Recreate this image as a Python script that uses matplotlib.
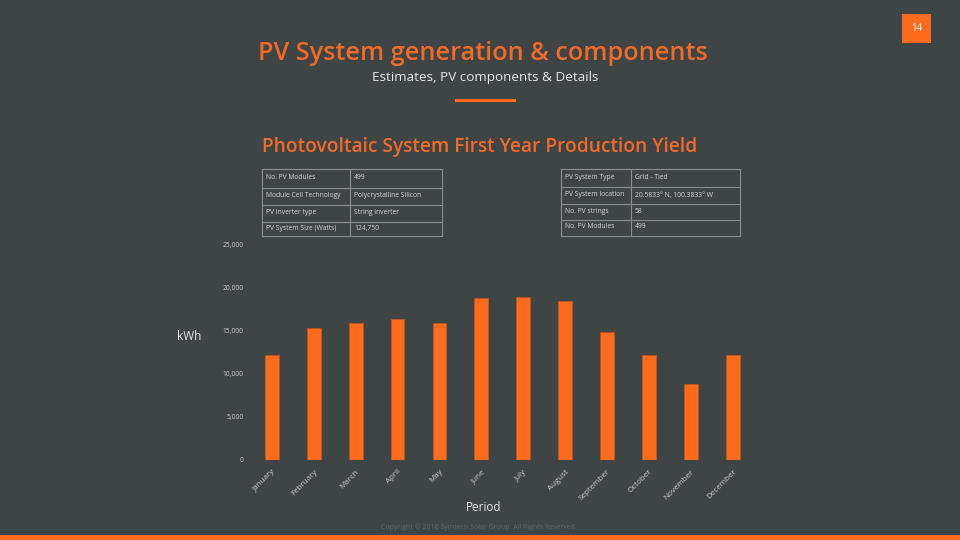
import matplotlib
matplotlib.use("Agg")
import matplotlib.pyplot as plt
from matplotlib.patches import Rectangle
from matplotlib.lines import Line2D

months = ["January", "February", "March", "April", "May", "June", "July",
          "August", "September", "October", "November", "December"]
production_kwh = [12100, 15300, 15900, 16300, 15900, 18750, 18900,
                  18400, 14800, 12200, 8800, 12200]
y_ticks = [0, 5000, 10000, 15000, 20000, 25000]
y_tick_labels = ["0", "5,000", "10,000", "15,000", "20,000", "25,000"]

left_table = [["No. PV Modules", "499"],
              ["Module Cell Technology", "Polycrystalline Silicon"],
              ["PV Inverter type", "String inverter"],
              ["PV System Size (Watts)", "124,750"]]
right_table = [["PV System Type", "Grid - Tied"],
               ["PV System location", "20.5833° N, 100.3833° W"],
               ["No. PV strings", "58"],
               ["No. PV Modules", "499"]]

BG = "#3f4444"
ORANGE = "#fc6b1e"
TITLE_OR = "#f06b2a"
LIGHT = "#e6e6e6"
GRID = "#8a8e8e"

plt.rcParams['font.family'] = ['Open Sans', 'DejaVu Sans']

W, H = 960, 540
fig = plt.figure(figsize=(9.6, 5.4), dpi=100, facecolor=BG)


def fx(x):
    return x / W


def fy(y):
    return 1 - y / H


# Titles
fig.text(fx(482.5), fy(53.5), "PV System generation & components", color=TITLE_OR,
         fontsize=18.2, fontweight="semibold", ha="center", va="center")
fig.text(fx(485), fy(77.5), "Estimates, PV components & Details", color=LIGHT,
         fontsize=9.7, ha="center", va="center")
fig.add_artist(Rectangle((fx(455), fy(101.5)), fx(61), 3 / H, transform=fig.transFigure,
                         color=ORANGE, lw=0))
fig.text(fx(480), fy(146.5), "Photovoltaic System First Year Production Yield", color=TITLE_OR,
         fontsize=13.8, fontweight="semibold", ha="center", va="center")

# Page number box
fig.add_artist(Rectangle((fx(902), fy(43)), fx(29), 29 / H, transform=fig.transFigure,
                         color=ORANGE, lw=0))
fig.text(fx(916.5), fy(28.5), "14", color="white", fontsize=7, ha="center", va="center")

# Bottom strip
fig.add_artist(Rectangle((0, 0), 1, 5 / H, transform=fig.transFigure, color=ORANGE, lw=0))
fig.text(fx(478.5), fy(527), "Copyright © 2016 Symtech Solar Group. All Rights Reserved.",
         color="#606666", fontsize=5.0, ha="center", va="center")


def draw_table(rows, x0, x1, xdiv, ylines):
    kw = dict(transform=fig.transFigure, color=GRID, lw=0.8)
    for y in ylines:
        fig.add_artist(Line2D([fx(x0), fx(x1)], [fy(y), fy(y)], **kw))
    for x in (x0, xdiv, x1):
        fig.add_artist(Line2D([fx(x), fx(x)], [fy(ylines[0]), fy(ylines[-1])], **kw))
    for i, (a, b) in enumerate(rows):
        yc = (ylines[i] + ylines[i + 1]) / 2 - 0.5
        fig.text(fx(x0 + 4), fy(yc), a, color="#d8d8d8", fontsize=4.9, ha="left", va="center")
        fig.text(fx(xdiv + 4), fy(yc), b, color="#d8d8d8", fontsize=4.9, ha="left", va="center")


draw_table(left_table, 262, 442, 350, [169, 187.5, 205, 221.5, 236])
draw_table(right_table, 561, 740, 631, [169, 187, 204, 219.5, 235.5])

# Chart
ax = fig.add_axes([fx(250.8), fy(460), fx(503), 216 / H])
ax.set_facecolor(BG)
x = list(range(len(months)))
ax.bar(x, production_kwh, width=0.33, color=ORANGE, edgecolor="#c8551a", linewidth=0.5)
ax.set_xlim(-0.5, len(months) - 0.5)
ax.set_ylim(0, 25000)
ax.set_yticks(y_ticks)
ax.set_yticklabels(y_tick_labels)
ax.set_xticks(x)
ax.set_xticklabels(months, rotation=45, ha="right", rotation_mode="anchor")
for s in ax.spines.values():
    s.set_visible(False)
ax.tick_params(axis="y", length=0, labelsize=4.8, labelcolor="#cfcfcf", pad=5)
ax.tick_params(axis="x", length=0, labelsize=5.8, labelcolor="#cfcfcf", pad=6)
ax.set_ylabel("kWh", rotation=0, color=LIGHT, fontsize=8.5, labelpad=0)
ax.yaxis.set_label_coords((189.5 - 250.8) / 503, (460 - 337) / 216)
ax.set_xlabel("Period", color=LIGHT, fontsize=8.5)
ax.xaxis.set_label_coords((484 - 250.8) / 503, -(507.5 - 460) / 216)
ax.xaxis.label.set_va("center")
ax.yaxis.label.set_va("center")
ax.yaxis.label.set_ha("center")

fig.savefig("out.png", dpi=100, facecolor=BG)
